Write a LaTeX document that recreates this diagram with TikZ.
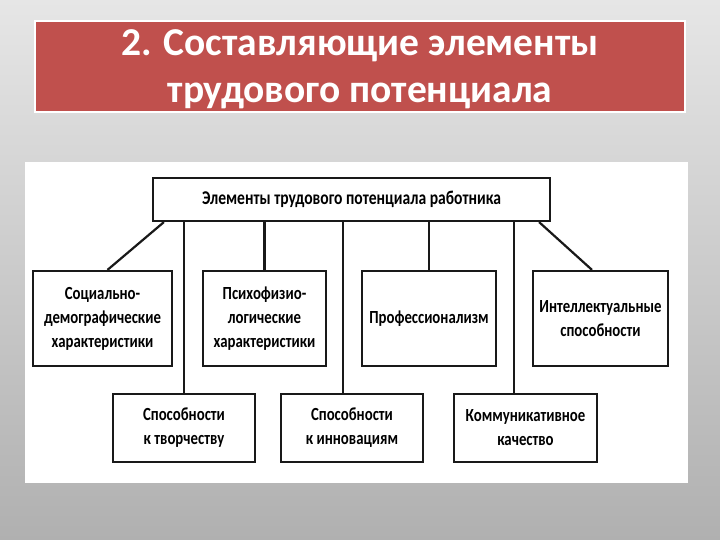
\documentclass[tikz,border=0pt]{standalone}
\usepackage{fontspec}
\setmainfont{Carlito}
\newfontfamily\schemefont[FakeStretch=0.8]{Carlito}
\usetikzlibrary{positioning}

\definecolor{slidetop}{RGB}{230,230,230}
\definecolor{slidebottom}{RGB}{176,176,176}
\definecolor{bannerred}{RGB}{192,80,77}
\definecolor{inkline}{RGB}{25,25,25}

\begin{document}
\begin{tikzpicture}[x=1pt, y=-1pt]
    \tikzstyle{titlebox}=[draw=white, line width=2pt, fill=bannerred, minimum width=650, minimum height=91, rectangle]
    \tikzstyle{titletext}=[text=white, align=center, font=\bfseries\fontsize{39.5}{47}\selectfont]
    \tikzstyle{headbox}=[draw=inkline, line width=2.2pt, fill=white, minimum width=397, minimum height=43, rectangle, font=\schemefont\bfseries\fontsize{19.5}{22}\selectfont]
    \tikzstyle{elembox}=[draw=inkline, line width=2.2pt, fill=white, minimum height=95, rectangle, align=center, font=\schemefont\bfseries\fontsize{18.5}{24}\selectfont]
    \tikzstyle{lowbox}=[elembox, minimum height=68]
    \tikzstyle{link}=[draw=inkline, line width=2.2pt]

    % slide background and scanned page
    \shade[top color=slidetop, bottom color=slidebottom] (0,0) rectangle (720,540);
    \fill[white] (25,162) rectangle (688,483);

    \node[titlebox] (title) at (360,66.5) {};
    \node[titletext] (titletxt) at ([yshift=-3]title.center) {2. Составляющие элементы\\трудового потенциала};

    \node[headbox] (head) at (351.5,199.5) {Элементы трудового потенциала работника};

    \node[elembox, minimum width=139] (social) at (102.5,318.5) {Социально-\\демографические\\характеристики};
    \node[elembox, minimum width=123] (psycho) at (264.5,318.5) {Психофизио-\\логические\\характеристики};
    \node[elembox, minimum width=134] (prof) at (429,318.5) {Профессионализм};
    \node[elembox, minimum width=135] (intel) at (600.5,318.5) {Интеллектуальные\\способности};

    \node[lowbox, minimum width=142] (creative) at (184,428) {Способности\\к творчеству};
    \node[lowbox, minimum width=142] (innov) at (352,428) {Способности\\к инновациям};
    \node[lowbox, minimum width=143] (commun) at (525.5,428) {Коммуникативное\\качество};

    \draw[link] ([xshift=12]head.south west) -- ([xshift=5]social.north);
    \draw[link] (creative.north) -- (creative.north |- head.south);
    \draw[link] (psycho.north) -- (psycho.north |- head.south);
    \draw[link] ([xshift=-9]innov.north) -- ([xshift=-9]innov.north |- head.south);
    \draw[link] (prof.north) -- (prof.north |- head.south);
    \draw[link] ([xshift=-11.5]commun.north) -- ([xshift=-11.5]commun.north |- head.south);
    \draw[link] ([xshift=-12]head.south east) -- ([xshift=-8.5]intel.north);
\end{tikzpicture}
\end{document}
